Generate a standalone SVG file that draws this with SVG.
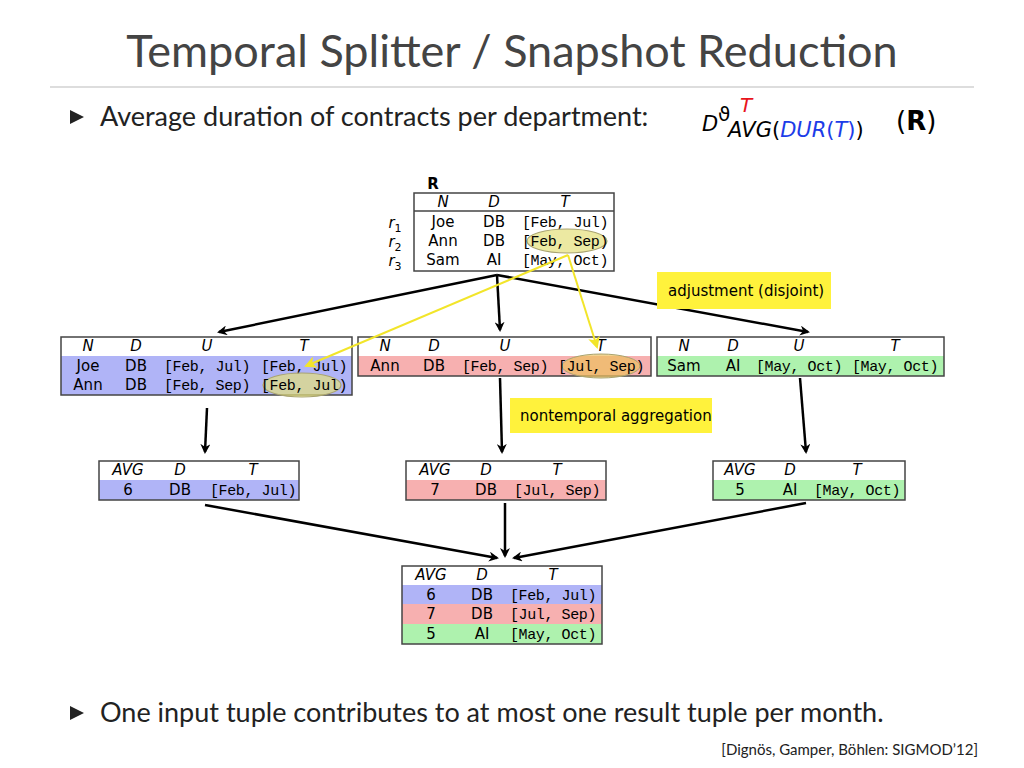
<svg xmlns="http://www.w3.org/2000/svg" width="1024" height="768" viewBox="0 0 1024 768">
<defs>
<marker id="ak" markerWidth="10" markerHeight="10" refX="8" refY="5" orient="auto" markerUnits="userSpaceOnUse"><path d="M0,0 L10,5 L0,10 L3,5 z" fill="#000"/></marker>
<marker id="ay" markerWidth="12" markerHeight="12" refX="10" refY="6" orient="auto" markerUnits="userSpaceOnUse"><path d="M0,0 L12,6 L0,12 L3,6 z" fill="#f2e52a"/></marker>
<style>
.s{font-family:"DejaVu Sans","Liberation Sans",sans-serif;font-size:15px;text-anchor:middle;fill:#000}
.i{font-style:italic}
.m{font-family:"Liberation Mono","DejaVu Sans Mono",monospace;font-size:15px;text-anchor:middle;letter-spacing:-0.4px}
.tb{fill:none;stroke:#444;stroke-width:1.5}
.b{fill:#b0b4f7}.r{fill:#f7b0b0}.g{fill:#aef2ae}
.k{stroke:#000;stroke-width:2.5;fill:none;marker-end:url(#ak)}
.y{stroke:#f2e52a;stroke-width:2;fill:none;marker-end:url(#ay)}
.el{fill:#e4e07a;fill-opacity:0.7;stroke:#a9a470;stroke-width:1.2}
.lab{fill:#fff23c}
.lt{font-family:"DejaVu Sans","Liberation Sans",sans-serif;font-size:15px;fill:#000}
.big{font-family:Lato,"Open Sans",sans-serif;font-size:27px;fill:#222}
</style>
</defs>
<rect width="1024" height="768" fill="#fff"/>
<text x="512" y="67" font-family="Lato,'Open Sans',sans-serif" font-size="45" text-anchor="middle" fill="#444">Temporal Splitter / Snapshot Reduction</text>
<line x1="50" y1="87" x2="974" y2="87" stroke="#ddd" stroke-width="2"/>
<path d="M70,110 L84,117 L70,124 z" fill="#222"/>
<text x="100" y="126" class="big">Average duration of contracts per department:</text>
<g id="formula">
<text x="702" y="131" font-family="DejaVu Sans,sans-serif" font-size="21" font-style="italic">D</text>
<text x="718" y="121" font-family="DejaVu Sans,sans-serif" font-size="20">ϑ</text>
<text x="740" y="112" font-family="DejaVu Sans,sans-serif" font-size="20" font-style="italic" fill="#e8141c">T</text>
<text x="728" y="137" font-family="DejaVu Sans,sans-serif" font-size="21"><tspan font-style="italic">AVG</tspan>(<tspan fill="#1c3ce8" font-style="italic">DUR</tspan><tspan fill="#1c3ce8">(</tspan><tspan fill="#1c3ce8" font-style="italic">T</tspan><tspan fill="#1c3ce8">)</tspan>)</text>
<text x="896" y="130" font-family="DejaVu Sans,sans-serif" font-size="26">(<tspan font-weight="bold">R</tspan>)</text>
</g>

<g id="R">
<text x="433" y="189" class="s" font-weight="bold">R</text>
<rect x="414" y="193" width="200" height="78" class="tb"/>
<line x1="414" y1="211" x2="614" y2="211" stroke="#444" stroke-width="1.5"/>
<text class="s i" x="443" y="207">N</text><text class="s i" x="494" y="207">D</text><text class="s i" x="565" y="207">T</text>
<text class="s i" x="395" y="228">r<tspan font-size="11" dy="4" font-style="normal">1</tspan></text>
<text class="s i" x="395" y="247">r<tspan font-size="11" dy="4" font-style="normal">2</tspan></text>
<text class="s i" x="395" y="266">r<tspan font-size="11" dy="4" font-style="normal">3</tspan></text>
<text class="s" x="443" y="227">Joe</text><text class="s" x="494" y="227">DB</text><text class="m" x="565" y="227">[Feb, Jul)</text>
<ellipse cx="567" cy="241" rx="40" ry="12" class="el"/>
<text class="s" x="443" y="246">Ann</text><text class="s" x="494" y="246">DB</text><text class="m" x="565" y="246">[Feb, Sep)</text>
<text class="s" x="443" y="265">Sam</text><text class="s" x="494" y="265">AI</text><text class="m" x="565" y="265">[May, Oct)</text>
</g>

<g id="T1">
<rect x="61" y="356" width="291" height="39" class="b"/>
<rect x="61" y="337" width="291" height="58" class="tb"/>
<text class="s i" x="88" y="351">N</text><text class="s i" x="136" y="351">D</text><text class="s i" x="207" y="351">U</text><text class="s i" x="304" y="351">T</text>
<text class="s" x="88" y="371">Joe</text><text class="s" x="136" y="371">DB</text><text class="m" x="207" y="371">[Feb, Jul)</text><text class="m" x="304" y="371">[Feb, Jul)</text>
<ellipse cx="302" cy="385" rx="39" ry="12" class="el"/>
<text class="s" x="88" y="390">Ann</text><text class="s" x="136" y="390">DB</text><text class="m" x="207" y="390">[Feb, Sep)</text><text class="m" x="304" y="390">[Feb, Jul)</text>
</g>
<g id="T2">
<rect x="358" y="356" width="293" height="20" class="r"/>
<rect x="358" y="337" width="293" height="39" class="tb"/>
<text class="s i" x="385" y="351">N</text><text class="s i" x="434" y="351">D</text><text class="s i" x="505" y="351">U</text><text class="s i" x="601" y="351">T</text>
<ellipse cx="601" cy="366" rx="39" ry="12" fill="#ecc060" fill-opacity="0.7" stroke="#a9a470"/>
<text class="s" x="385" y="371">Ann</text><text class="s" x="434" y="371">DB</text><text class="m" x="505" y="371">[Feb, Sep)</text><text class="m" x="601" y="371">[Jul, Sep)</text>
</g>
<g id="T3">
<rect x="657" y="356" width="287" height="20" class="g"/>
<rect x="657" y="337" width="287" height="39" class="tb"/>
<text class="s i" x="684" y="351">N</text><text class="s i" x="733" y="351">D</text><text class="s i" x="799" y="351">U</text><text class="s i" x="895" y="351">T</text>
<text class="s" x="684" y="371">Sam</text><text class="s" x="733" y="371">AI</text><text class="m" x="799" y="371">[May, Oct)</text><text class="m" x="895" y="371">[May, Oct)</text>
</g>

<g id="A1">
<rect x="99" y="480" width="200" height="20" class="b"/>
<rect x="99" y="461" width="200" height="39" class="tb"/>
<text class="s i" x="128" y="475">AVG</text><text class="s i" x="180" y="475">D</text><text class="s i" x="253" y="475">T</text>
<text class="s" x="128" y="495">6</text><text class="s" x="180" y="495">DB</text><text class="m" x="253" y="495">[Feb, Jul)</text>
</g>
<g id="A2">
<rect x="406" y="480" width="200" height="20" class="r"/>
<rect x="406" y="461" width="200" height="39" class="tb"/>
<text class="s i" x="435" y="475">AVG</text><text class="s i" x="486" y="475">D</text><text class="s i" x="557" y="475">T</text>
<text class="s" x="435" y="495">7</text><text class="s" x="486" y="495">DB</text><text class="m" x="557" y="495">[Jul, Sep)</text>
</g>
<g id="A3">
<rect x="713" y="480" width="192" height="20" class="g"/>
<rect x="713" y="461" width="192" height="39" class="tb"/>
<text class="s i" x="740" y="475">AVG</text><text class="s i" x="790" y="475">D</text><text class="s i" x="857" y="475">T</text>
<text class="s" x="740" y="495">5</text><text class="s" x="790" y="495">AI</text><text class="m" x="857" y="495">[May, Oct)</text>
</g>
<g id="F">
<rect x="402" y="585" width="200" height="19" class="b"/>
<rect x="402" y="604" width="200" height="20" class="r"/>
<rect x="402" y="624" width="200" height="20" class="g"/>
<rect x="402" y="566" width="200" height="78" class="tb"/>
<text class="s i" x="431" y="580">AVG</text><text class="s i" x="482" y="580">D</text><text class="s i" x="553" y="580">T</text>
<text class="s" x="431" y="600">6</text><text class="s" x="482" y="600">DB</text><text class="m" x="553" y="600">[Feb, Jul)</text>
<text class="s" x="431" y="619">7</text><text class="s" x="482" y="619">DB</text><text class="m" x="553" y="619">[Jul, Sep)</text>
<text class="s" x="431" y="639">5</text><text class="s" x="482" y="639">AI</text><text class="m" x="553" y="639">[May, Oct)</text>
</g>

<g id="connectors">
<path class="k" d="M497,275 L219,332"/>
<path class="k" d="M497,275 L500,330"/>
<path class="k" d="M497,275 L808,332"/>
<path class="k" d="M207,408 L205,452"/>
<path class="k" d="M500,378 L502,452"/>
<path class="k" d="M800,378 L806,452"/>
<path class="k" d="M205,505 L497,558"/>
<path class="k" d="M505,503 L505,556"/>
<path class="k" d="M806,503 L514,558"/>
<path class="y" d="M568,255 L306,366"/>
<path class="y" d="M568,255 L597,347"/>
</g>

<g id="lab1"><rect x="657" y="272" width="174" height="37" class="lab"/><text class="lt" x="668" y="296">adjustment (disjoint)</text></g>
<g id="lab2"><rect x="510" y="398" width="202" height="35" class="lab"/><text class="lt" x="520" y="421">nontemporal aggregation</text></g>

<path d="M70,706 L84,713 L70,720 z" fill="#222"/>
<text x="100" y="722" class="big">One input tuple contributes to at most one result tuple per month.</text>
<text x="978" y="755" font-family="Lato,'Open Sans',sans-serif" font-size="15" text-anchor="end" fill="#222">[Dignös, Gamper, Böhlen: SIGMOD’12]</text>
</svg>
